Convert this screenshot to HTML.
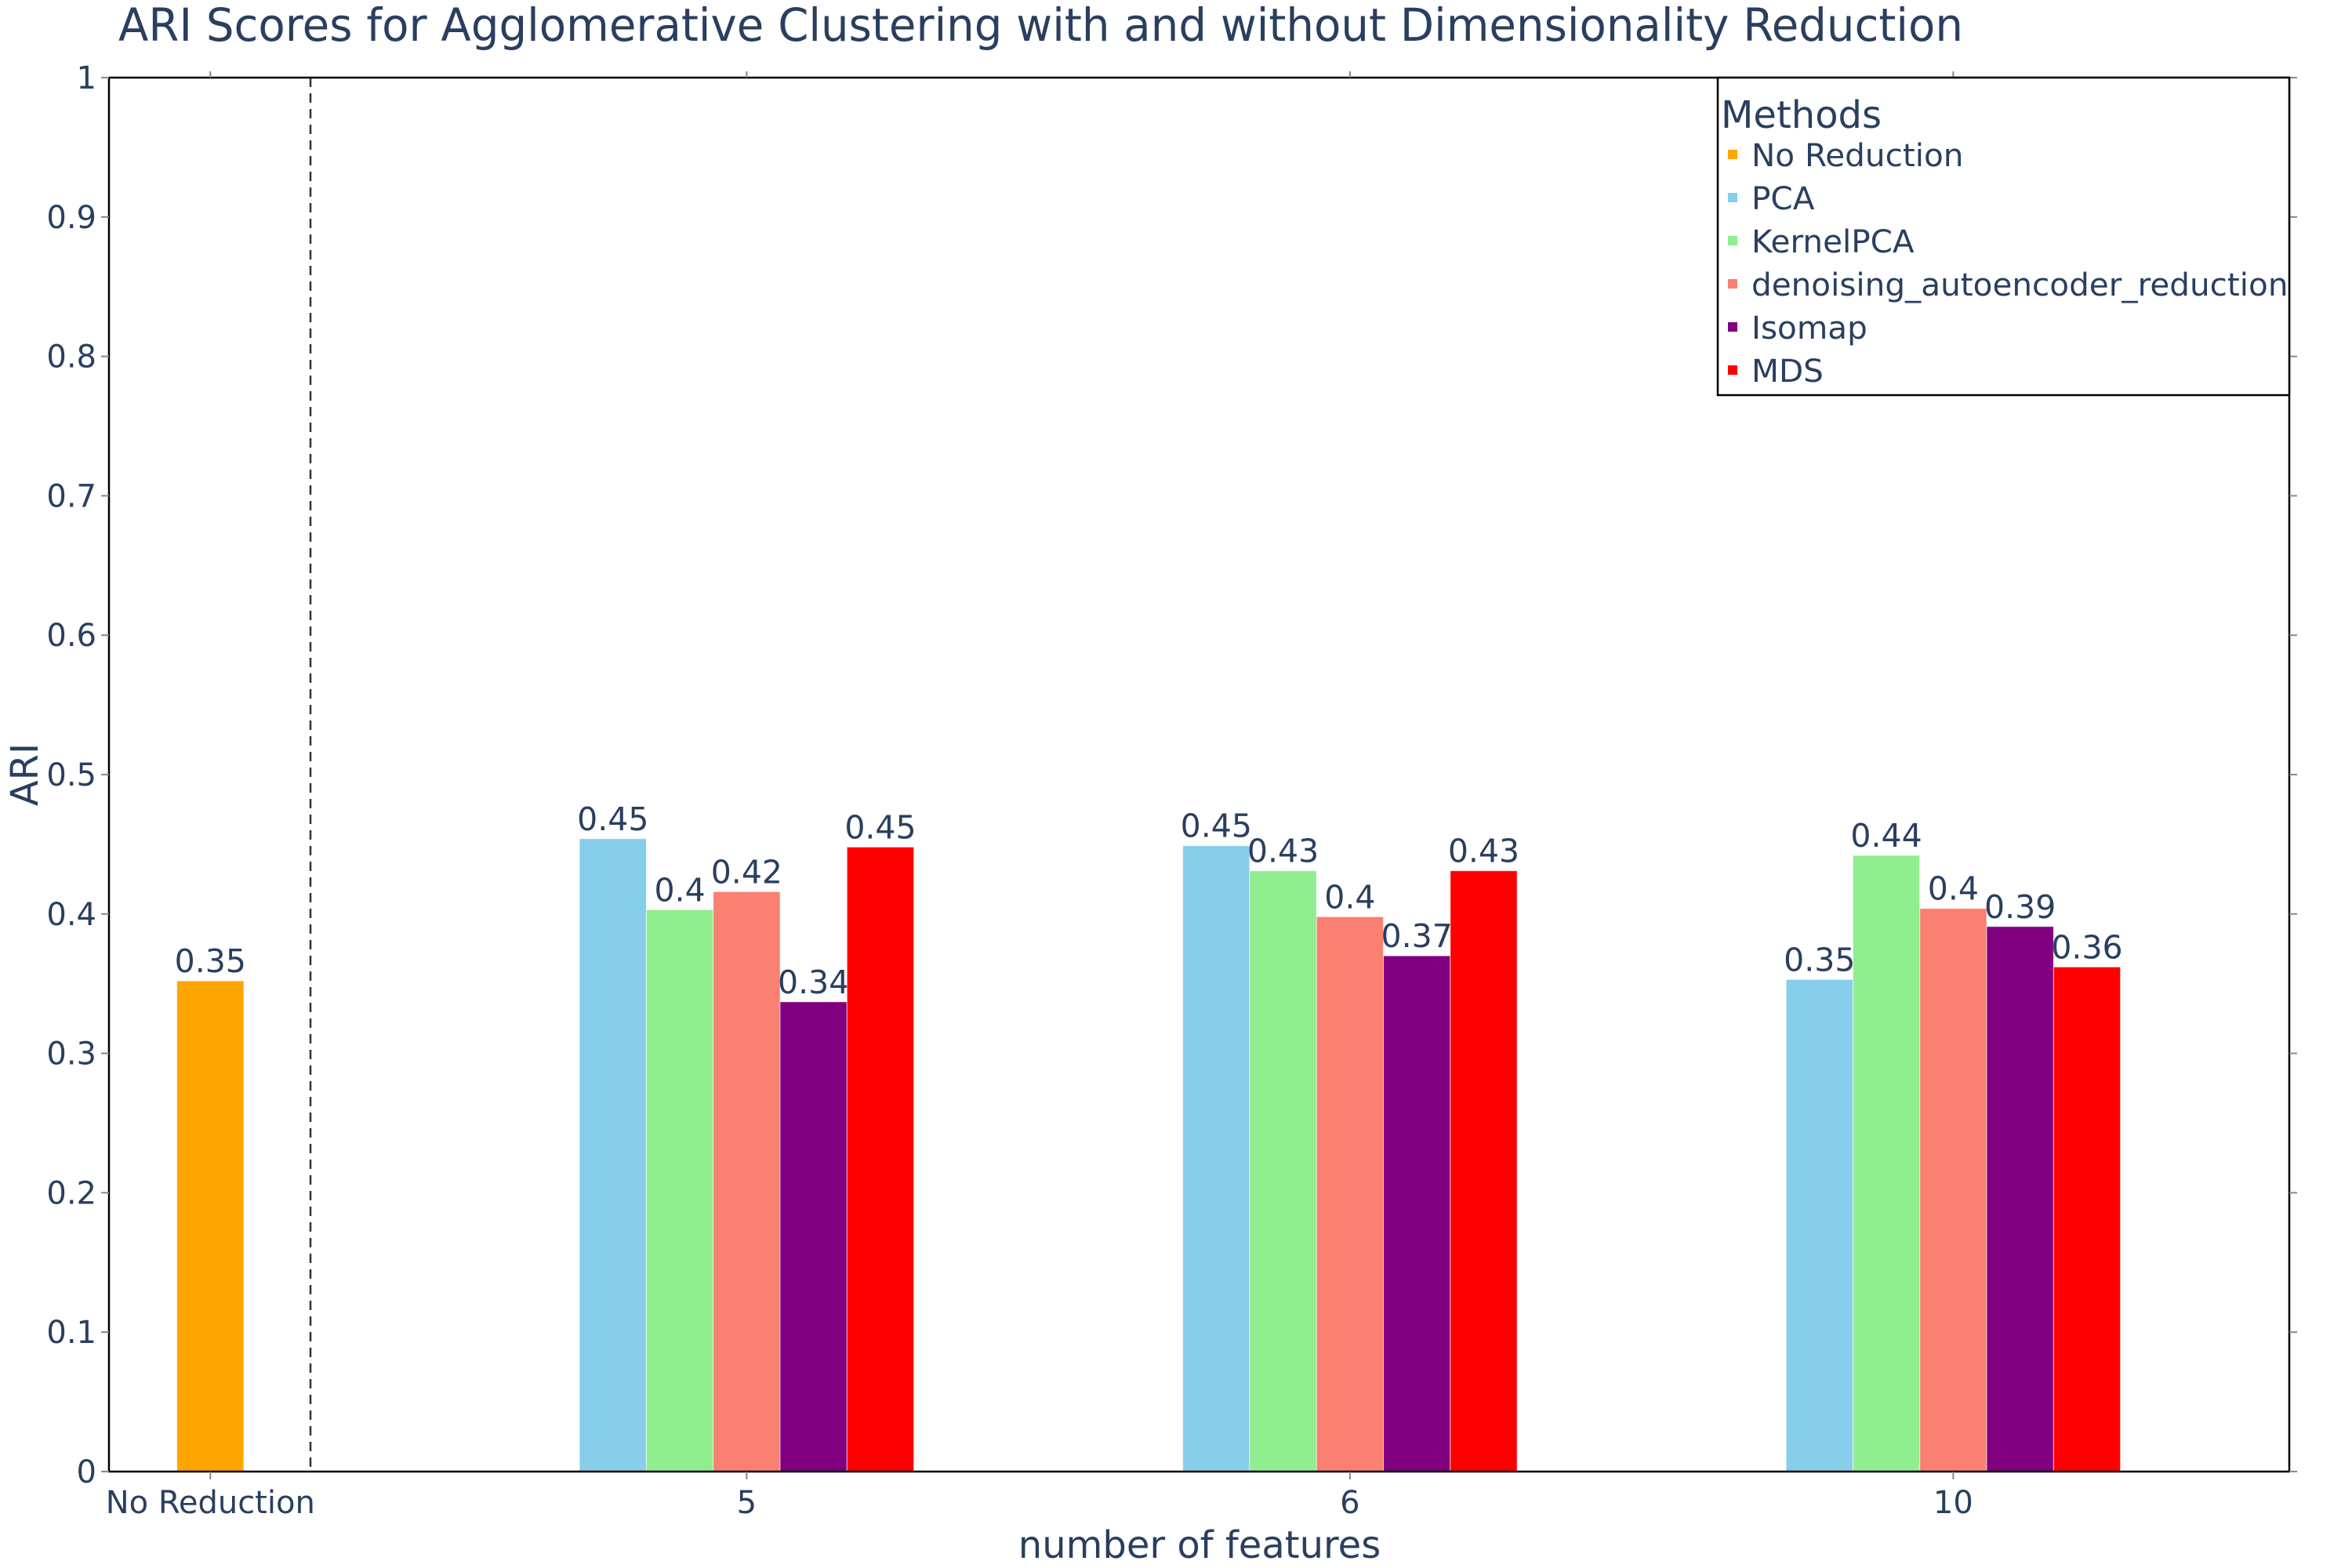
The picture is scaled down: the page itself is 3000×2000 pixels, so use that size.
<!DOCTYPE html>
<html><head><meta charset="utf-8">
<style>
html,body{margin:0;padding:0;background:#fff;}
svg{display:block;font-family:"DejaVu Sans","Liberation Sans",sans-serif;}
</style></head>
<body>
<svg id="chart" width="3000" height="2000" viewBox="0 0 3000 2000" xmlns="http://www.w3.org/2000/svg">
  <rect x="0" y="0" width="3000" height="2000" fill="#ffffff"/>
  <text x="151" y="52" font-size="58" fill="#2a3f5f" textLength="2353" lengthAdjust="spacingAndGlyphs">ARI Scores for Agglomerative Clustering with and without Dimensionality Reduction</text>
  <g id="marks"></g>
  <g id="axes"></g>
  <text x="1530" y="1987" font-size="48" fill="#2a3f5f" text-anchor="middle">number of features</text>
  <text transform="translate(48,988) rotate(-90)" font-size="48" fill="#2a3f5f" text-anchor="middle">ARI</text>
  <g id="legend"></g>
</svg>
<script>
// ---- data ----
const categories = ["No Reduction", "5", "6", "10"];
const methods = ["No Reduction", "PCA", "KernelPCA", "denoising_autoencoder_reduction", "Isomap", "MDS"];
const colors = ["#FFA500", "#87CEEB", "#90EE90", "#FA8072", "#800080", "#FF0000"];
const noReductionValues = [0.352];
const pcaValues = [0.454, 0.449, 0.353];
const kernelPcaValues = [0.403, 0.431, 0.442];
const denoisingValues = [0.416, 0.398, 0.404];
const isomapValues = [0.337, 0.370, 0.391];
const mdsValues = [0.448, 0.431, 0.362];
const yTicks = [0, 0.1, 0.2, 0.3, 0.4, 0.5, 0.6, 0.7, 0.8, 0.9, 1];
const yTickLabels = ["0", "0.1", "0.2", "0.3", "0.4", "0.5", "0.6", "0.7", "0.8", "0.9", "1"];

// ---- axes geometry ----
const PL = 139, PR = 2920, PT = 99, PB = 1877;
const yMin = 0, yMax = 1;
const xMinIdx = -0.057, xMaxIdx = 3.557;
const catIdx = [0.111, 1, 2, 3];
const dividerIdx = 0.277;
const barW = 85.3;
function y(v){ return PB - (v - yMin) / (yMax - yMin) * (PB - PT); }
function x(idx){ return PL + (idx - xMinIdx) / (xMaxIdx - xMinIdx) * (PR - PL); }
function fmt(v){ return String(Math.round(v * 100) / 100); }

const NS = "http://www.w3.org/2000/svg";
function mk(tag, attrs, parent){
  const e = document.createElementNS(NS, tag);
  for (const k in attrs) e.setAttribute(k, attrs[k]);
  parent.appendChild(e);
  return e;
}
const marks = document.getElementById("marks");
const axes = document.getElementById("axes");
const legend = document.getElementById("legend");

function drawBar(cx, v, color, label){
  const r = mk("rect", {x: cx - barW/2, y: y(v), width: barW, height: PB - y(v), fill: color, stroke: "rgba(255,255,255,0.6)", "stroke-width": 1}, marks);
  
  
  const t = mk("text", {x: cx, y: y(v) - 11, "font-size": 41, fill: "#2a3f5f", "text-anchor": "middle"}, marks);
  
  
  t.textContent = label;
}

drawBar(x(catIdx[0]), noReductionValues[0], colors[0], fmt(noReductionValues[0]));
const series = [pcaValues, kernelPcaValues, denoisingValues, isomapValues, mdsValues];
for (let g = 0; g < 3; g++){
  const c = x(catIdx[g + 1]);
  for (let s = 0; s < series.length; s++){
    const cx = c + (s - 2) * barW;
    drawBar(cx, series[s][g], colors[s + 1], fmt(series[s][g]));
  }
}

const dv = mk("line", {x1: x(dividerIdx), x2: x(dividerIdx), y1: PT, y2: PB, stroke: "#333", "stroke-width": 2.5, "stroke-dasharray": "12,8"}, axes);



const fr = mk("rect", {x: PL, y: PT, width: PR - PL, height: PB - PT, fill: "none", stroke: "#000", "stroke-width": 2.5}, axes);



for (let i = 0; i < yTicks.length; i++){
  const yy = y(yTicks[i]);
  const tk = mk("line", {x1: PL - 10, x2: PL, y1: yy, y2: yy, stroke: "#888", "stroke-width": 2}, axes);
  
  
  const tr = mk("line", {x1: PR, x2: PR + 10, y1: yy, y2: yy, stroke: "#888", "stroke-width": 2}, axes);
  
  
  const lb = mk("text", {x: PL - 16, y: yy + 14, "font-size": 40, fill: "#2a3f5f", "text-anchor": "end"}, axes);
  
  
  lb.textContent = yTickLabels[i];
}
for (let i = 0; i < categories.length; i++){
  const xx = x(catIdx[i]);
  const tk = mk("line", {x1: xx, x2: xx, y1: PB, y2: PB + 10, stroke: "#888", "stroke-width": 2}, axes);
  
  
  const tt = mk("line", {x1: xx, x2: xx, y1: PT - 8, y2: PT, stroke: "#888", "stroke-width": 2}, axes);
  
  
  const lb = mk("text", {x: xx, y: 1930, "font-size": 40, fill: "#2a3f5f", "text-anchor": "middle"}, axes);
  
  
  lb.textContent = categories[i];
}

const lbx = mk("rect", {x: 2191, y: PT, width: PR - 2191, height: 504 - PT, fill: "#fff", stroke: "#000", "stroke-width": 2.5}, legend);


const lt = mk("text", {x: 2195, y: 163, "font-size": 48, fill: "#2a3f5f"}, legend);


lt.textContent = "Methods";
for (let i = 0; i < methods.length; i++){
  const by = 212 + i * 55;
  const sw = mk("rect", {x: 2204, y: by - 21, width: 12, height: 12, fill: colors[i]}, legend);
  
  
  const tx = mk("text", {x: 2234, y: by, "font-size": 40.5, fill: "#2a3f5f"}, legend);
  
  
  tx.textContent = methods[i];
}
</script>
</body></html>
